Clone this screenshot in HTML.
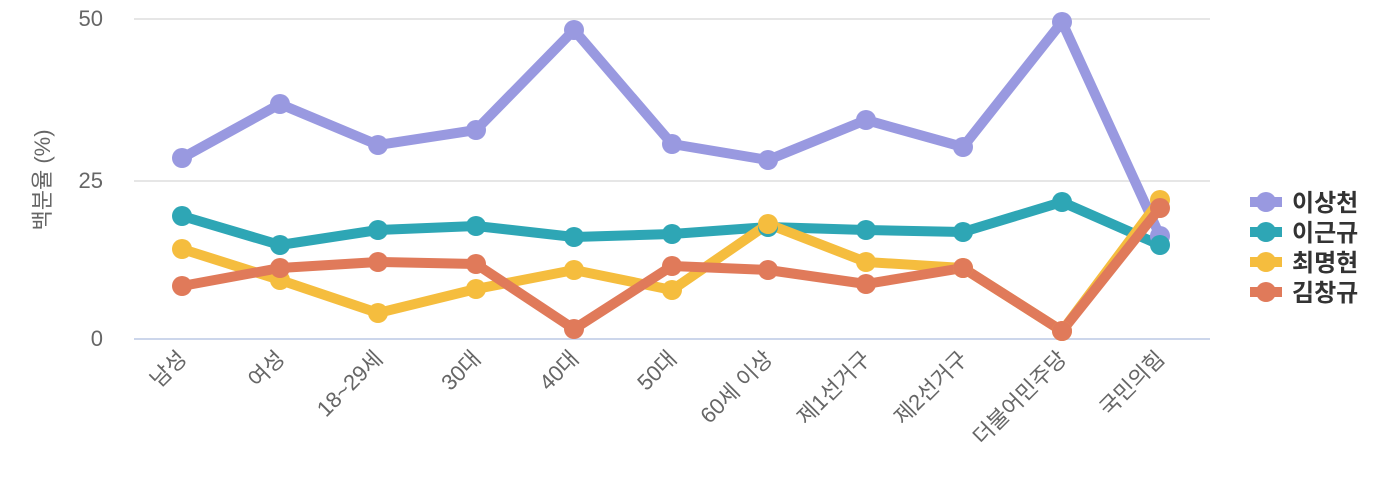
<!DOCTYPE html>
<html><head><meta charset="utf-8"><style>body{margin:0;background:#fff}svg{display:block}text{font-family:"Liberation Sans","Noto Sans CJK KR",sans-serif}</style></head><body>
<svg width="1400" height="500" xmlns="http://www.w3.org/2000/svg">
<g stroke="#e6e6e6" stroke-width="2"><line x1="134" y1="19" x2="1210" y2="19"/><line x1="134" y1="181" x2="1210" y2="181"/></g>
<line x1="134" y1="339" x2="1210" y2="339" stroke="#ccd6eb" stroke-width="2"/>
<g fill="#666" font-size="22" text-anchor="end"><text x="103" y="26">50</text><text x="103" y="188">25</text><text x="103" y="346">0</text></g>
<text transform="translate(50,180) rotate(-90)" text-anchor="middle" fill="#666" font-size="22">백분율 (%)</text>
<g fill="#666" font-size="22" text-anchor="end">
<text transform="translate(188,360) rotate(-45)">남성</text>
<text transform="translate(286,360) rotate(-45)">여성</text>
<text transform="translate(384,360) rotate(-45)">18~29세</text>
<text transform="translate(482,360) rotate(-45)">30대</text>
<text transform="translate(580,360) rotate(-45)">40대</text>
<text transform="translate(678,360) rotate(-45)">50대</text>
<text transform="translate(774,360) rotate(-45)">60세 이상</text>
<text transform="translate(872,360) rotate(-45)">제1선거구</text>
<text transform="translate(969,360) rotate(-45)">제2선거구</text>
<text transform="translate(1068,360) rotate(-45)">더불어민주당</text>
<text transform="translate(1166,360) rotate(-45)">국민의힘</text>
</g>
<g fill="none" stroke-width="10" stroke-linejoin="round" stroke-linecap="round">
<polyline stroke="#9999e0" points="182,158 280,104 378,145 476,130 574,30 672,144 768,160 866,120 963,147 1062,22 1160,236"/>
<polyline stroke="#2ea6b5" points="182,216 280,245 378,230 476,226 574,237 672,234 768,227 866,230 963,232 1062,202 1160,245"/>
<polyline stroke="#f5bd3e" points="182,249 280,280 378,313 476,289 574,270 672,290 768,224 866,262 963,268 1062,331 1160,200"/>
<polyline stroke="#e07a5a" points="182,286 280,268 378,262 476,264 574,329 672,266 768,270 866,284 963,268 1062,331 1160,208"/>
</g>
<g fill="#9999e0"><circle cx="182" cy="158" r="10"/><circle cx="280" cy="104" r="10"/><circle cx="378" cy="145" r="10"/><circle cx="476" cy="130" r="10"/><circle cx="574" cy="30" r="10"/><circle cx="672" cy="144" r="10"/><circle cx="768" cy="160" r="10"/><circle cx="866" cy="120" r="10"/><circle cx="963" cy="147" r="10"/><circle cx="1062" cy="22" r="10"/><circle cx="1160" cy="236" r="10"/></g>
<g fill="#2ea6b5"><circle cx="182" cy="216" r="10"/><circle cx="280" cy="245" r="10"/><circle cx="378" cy="230" r="10"/><circle cx="476" cy="226" r="10"/><circle cx="574" cy="237" r="10"/><circle cx="672" cy="234" r="10"/><circle cx="768" cy="227" r="10"/><circle cx="866" cy="230" r="10"/><circle cx="963" cy="232" r="10"/><circle cx="1062" cy="202" r="10"/><circle cx="1160" cy="245" r="10"/></g>
<g fill="#f5bd3e"><circle cx="182" cy="249" r="10"/><circle cx="280" cy="280" r="10"/><circle cx="378" cy="313" r="10"/><circle cx="476" cy="289" r="10"/><circle cx="574" cy="270" r="10"/><circle cx="672" cy="290" r="10"/><circle cx="768" cy="224" r="10"/><circle cx="866" cy="262" r="10"/><circle cx="963" cy="268" r="10"/><circle cx="1062" cy="331" r="10"/><circle cx="1160" cy="200" r="10"/></g>
<g fill="#e07a5a"><circle cx="182" cy="286" r="10"/><circle cx="280" cy="268" r="10"/><circle cx="378" cy="262" r="10"/><circle cx="476" cy="264" r="10"/><circle cx="574" cy="329" r="10"/><circle cx="672" cy="266" r="10"/><circle cx="768" cy="270" r="10"/><circle cx="866" cy="284" r="10"/><circle cx="963" cy="268" r="10"/><circle cx="1062" cy="331" r="10"/><circle cx="1160" cy="208" r="10"/></g>
<g font-size="24" font-weight="bold" fill="#333">
<rect x="1250" y="197" width="32" height="10" fill="#9999e0"/><circle cx="1266" cy="202" r="10" fill="#9999e0"/><text x="1292" y="211">이상천</text>
<rect x="1250" y="227" width="32" height="10" fill="#2ea6b5"/><circle cx="1266" cy="232" r="10" fill="#2ea6b5"/><text x="1292" y="241">이근규</text>
<rect x="1250" y="257" width="32" height="10" fill="#f5bd3e"/><circle cx="1266" cy="262" r="10" fill="#f5bd3e"/><text x="1292" y="271">최명현</text>
<rect x="1250" y="287" width="32" height="10" fill="#e07a5a"/><circle cx="1266" cy="292" r="10" fill="#e07a5a"/><text x="1292" y="301">김창규</text>
</g>
</svg>
</body></html>
